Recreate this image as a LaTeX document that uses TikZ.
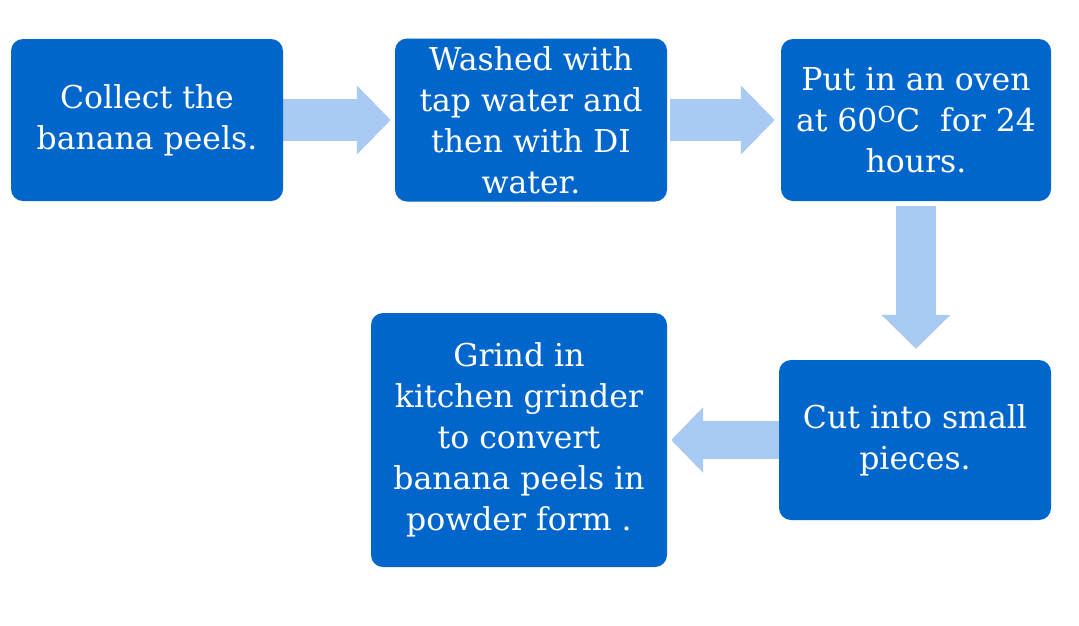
\documentclass[tikz,border=0pt]{standalone}
\usepackage{fontspec}
\setmainfont{DejaVu Serif}
\usetikzlibrary{arrows.meta,backgrounds}
\definecolor{boxblue}{HTML}{0066CC}
\definecolor{arrowblue}{HTML}{A9CAF2}
\tikzset{
  stepbox/.style={fill=boxblue, draw=none, rounded corners=12pt, text=white,
    align=center, inner sep=0pt,
    font=\fontsize{31.5}{41}\selectfont},
  fatarrow/.style={draw=arrowblue, line width=#1,
    -{Triangle[length=34pt,width=67pt]}},
}
\begin{document}
\begin{tikzpicture}[x=1pt,y=-1pt]
\useasboundingbox (0,0) rectangle (1079,625);
\node[stepbox, minimum width=272pt, minimum height=162pt] (b1) at (147,120)
  {Collect the\\banana peels.};
\node[stepbox, minimum width=272pt, minimum height=163pt] (b2) at (531,120)
  {Washed with\\tap water and\\then with DI\\water.};
\node[stepbox, minimum width=270pt, minimum height=162pt] (b3) at (916,120)
  {Put in an oven\\at 60\textsuperscript{O}C\ \ for 24\\hours.};
\node[stepbox, minimum width=272pt, minimum height=160pt] (b4) at (915,440)
  {Cut into small\\pieces.};
\node[stepbox, minimum width=296pt, minimum height=254pt] (b5) at (519,440)
  {Grind in\\kitchen grinder\\to convert\\banana peels in\\powder form .};
\begin{scope}[on background layer]
  \draw[fatarrow=42pt, shorten >=4pt] (b1.east) -- (b2.west);
  \draw[fatarrow=42pt, shorten <=3pt, shorten >=6pt] (b2.east) -- (b3.west);
  \draw[fatarrow=40pt, shorten <=5pt, shorten >=11pt] (b3.south) -- (b3.south |- b4.north);
  \draw[draw=arrowblue, line width=38pt, -{Triangle[length=32pt,width=64pt]}, shorten >=4pt] (b4.center) -- (b5.east);
\end{scope}
\end{tikzpicture}
\end{document}
